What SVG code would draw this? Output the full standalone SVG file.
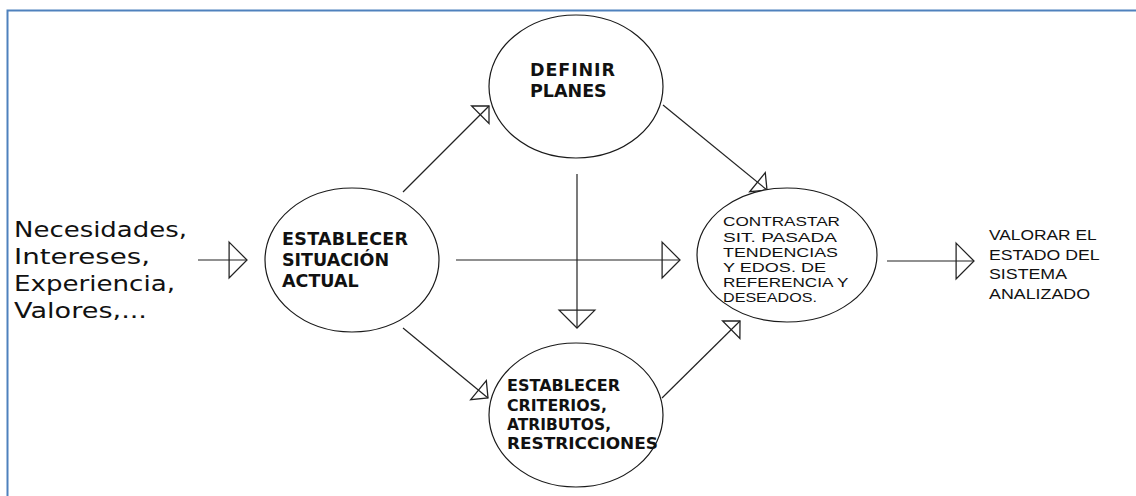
<svg xmlns="http://www.w3.org/2000/svg" width="1136" height="496" viewBox="0 0 1136 496">
  <style>
    .frame { fill: none; stroke: #4f81bd; stroke-width: 2; }
    .node { fill: #ffffff; stroke: #1a1a1a; stroke-width: 1.2; }
    .edge { fill: none; stroke: #222222; stroke-width: 1.2; }
    .bold { font-family: "DejaVu Sans", Verdana, sans-serif; font-weight: bold; fill: #111111; }
    .plain { font-family: "DejaVu Sans", Verdana, sans-serif; fill: #111111; }
    .thin { font-family: "Liberation Sans", Arial, sans-serif; fill: #111111; }
  </style>
  <defs>
    <!-- open triangular heads: large for axis-aligned connectors, small for diagonals -->
    <marker id="headL" markerUnits="userSpaceOnUse" markerWidth="40" markerHeight="40" viewBox="-2 -19 22 38" refX="17" refY="0" orient="auto" overflow="visible">
      <path d="M0,-17 L17,0 L0,17 Z" fill="none" stroke="#222222" stroke-width="1.2"/>
    </marker>
    <marker id="headS" markerUnits="userSpaceOnUse" markerWidth="30" markerHeight="30" viewBox="-2 -14 16 28" refX="11.5" refY="0" orient="auto" overflow="visible">
      <path d="M0,-11.5 L11.5,0 L0,11.5 Z" fill="none" stroke="#222222" stroke-width="1.2"/>
    </marker>
  </defs>

  <rect width="1136" height="496" fill="#ffffff"/>
  <rect class="frame" x="7.5" y="10.5" width="1140" height="500"/>

  <g id="inputs">
    <text class="plain" font-size="22">
      <tspan x="14" y="237" textLength="173" lengthAdjust="spacingAndGlyphs">Necesidades,</tspan>
      <tspan x="14" y="264" textLength="136" lengthAdjust="spacingAndGlyphs">Intereses,</tspan>
      <tspan x="14" y="291" textLength="161" lengthAdjust="spacingAndGlyphs">Experiencia,</tspan>
      <tspan x="14" y="318" textLength="133" lengthAdjust="spacingAndGlyphs">Valores,...</tspan>
    </text>
  </g>

  <g id="connectors">
    <line class="edge" x1="198" y1="260" x2="247" y2="260" marker-end="url(#headL)"/>
    <line class="edge" x1="456" y1="260" x2="680" y2="260" marker-end="url(#headL)"/>
    <line class="edge" x1="577" y1="174" x2="577" y2="328" marker-end="url(#headL)"/>
    <line class="edge" x1="887" y1="261" x2="974" y2="261" marker-end="url(#headL)"/>
    <line class="edge" x1="403" y1="192" x2="489" y2="106" marker-end="url(#headS)"/>
    <line class="edge" x1="663" y1="105" x2="767" y2="190" marker-end="url(#headS)"/>
    <line class="edge" x1="403" y1="328" x2="488" y2="398" marker-end="url(#headS)"/>
    <line class="edge" x1="662" y1="398" x2="740" y2="321" marker-end="url(#headS)"/>
  </g>

  <g id="situacion">
    <ellipse class="node" cx="352" cy="260" rx="87" ry="72"/>
    <text class="bold" font-size="17.5">
      <tspan x="282" y="245" textLength="126" lengthAdjust="spacing">ESTABLECER</tspan>
      <tspan x="282" y="266">SITUACIÓN</tspan>
      <tspan x="282" y="287">ACTUAL</tspan>
    </text>
  </g>

  <g id="planes">
    <ellipse class="node" cx="576" cy="86.5" rx="87" ry="71.5"/>
    <text class="bold" font-size="17.5">
      <tspan x="530" y="76" textLength="85" lengthAdjust="spacing">DEFINIR</tspan>
      <tspan x="530" y="97">PLANES</tspan>
    </text>
  </g>

  <g id="criterios">
    <ellipse class="node" cx="576" cy="415" rx="87" ry="72"/>
    <text class="bold" font-size="15">
      <tspan x="507" y="391" textLength="113" lengthAdjust="spacingAndGlyphs">ESTABLECER</tspan>
      <tspan x="507" y="411" textLength="100" lengthAdjust="spacingAndGlyphs">CRITERIOS,</tspan>
      <tspan x="507" y="430" textLength="104" lengthAdjust="spacingAndGlyphs">ATRIBUTOS,</tspan>
      <tspan x="507" y="449" textLength="151" lengthAdjust="spacingAndGlyphs">RESTRICCIONES</tspan>
    </text>
  </g>

  <g id="contrastar">
    <ellipse class="node" cx="787" cy="255" rx="90" ry="67"/>
    <text class="thin" font-size="13">
      <tspan x="723" y="226" textLength="117" lengthAdjust="spacingAndGlyphs">CONTRASTAR</tspan>
      <tspan x="723" y="242" textLength="113" lengthAdjust="spacingAndGlyphs">SIT. PASADA</tspan>
      <tspan x="723" y="257" textLength="115" lengthAdjust="spacingAndGlyphs">TENDENCIAS</tspan>
      <tspan x="723" y="272" textLength="103" lengthAdjust="spacingAndGlyphs">Y EDOS. DE</tspan>
      <tspan x="723" y="287" textLength="125" lengthAdjust="spacingAndGlyphs">REFERENCIA Y</tspan>
      <tspan x="723" y="302" textLength="94" lengthAdjust="spacingAndGlyphs">DESEADOS.</tspan>
    </text>
  </g>

  <g id="valorar">
    <text class="thin" font-size="14">
      <tspan x="989" y="240" textLength="107" lengthAdjust="spacingAndGlyphs">VALORAR EL</tspan>
      <tspan x="989" y="260" textLength="110" lengthAdjust="spacingAndGlyphs">ESTADO DEL</tspan>
      <tspan x="989" y="279" textLength="77" lengthAdjust="spacingAndGlyphs">SISTEMA</tspan>
      <tspan x="989" y="299" textLength="101" lengthAdjust="spacingAndGlyphs">ANALIZADO</tspan>
    </text>
  </g>
</svg>
